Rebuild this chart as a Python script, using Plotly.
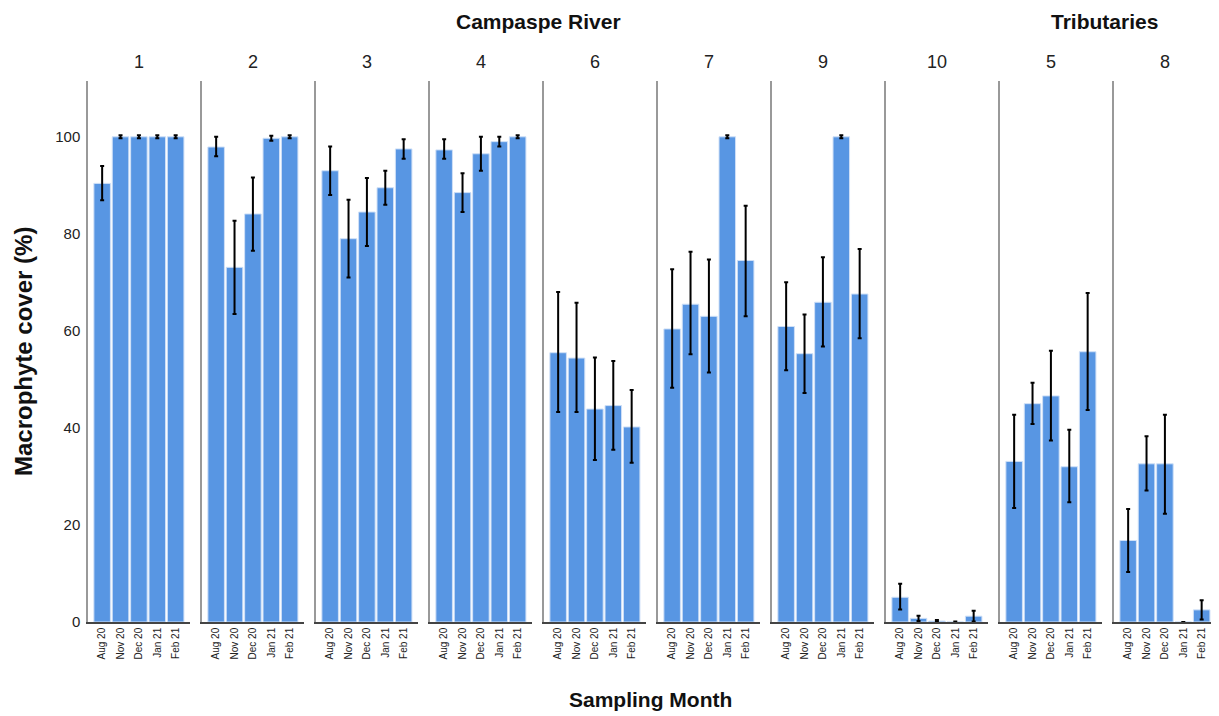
import plotly.graph_objects as go

# sites and months
sites = ["1", "2", "3", "4", "6", "7", "9", "10", "5", "8"]
months = ["Aug 20", "Nov 20", "Dec 20", "Jan 21", "Feb 21"]

# mean macrophyte cover (%) per site, per month
cover = {
    "1": [90.4, 100, 100, 100, 100],
    "2": [97.9, 73.1, 84.1, 99.7, 100],
    "3": [93.0, 79.0, 84.5, 89.5, 97.5],
    "4": [97.3, 88.5, 96.5, 99.0, 100],
    "6": [55.5, 54.4, 43.9, 44.6, 40.2],
    "7": [60.4, 65.5, 63.0, 100, 74.5],
    "9": [60.9, 55.3, 65.9, 100, 67.6],
    "10": [5.1, 0.75, 0.2, 0.0, 1.2],
    "5": [33.1, 45.0, 46.6, 32.0, 55.7],
    "8": [16.8, 32.6, 32.6, 0.0, 2.5],
}
# upper / lower error bar ends
err_hi = {
    "1": [94.0, 100.3, 100.3, 100.3, 100.3],
    "2": [100.0, 82.7, 91.6, 100.2, 100.3],
    "3": [98.0, 87.0, 91.5, 93.0, 99.5],
    "4": [99.5, 92.5, 100.0, 100.0, 100.3],
    "6": [68.0, 65.8, 54.5, 53.8, 47.8],
    "7": [72.7, 76.3, 74.7, 100.3, 85.8],
    "9": [70.0, 63.4, 75.2, 100.3, 76.9],
    "10": [7.9, 1.3, 0.4, 0.1, 2.3],
    "5": [42.7, 49.3, 55.9, 39.6, 67.8],
    "8": [23.3, 38.3, 42.7, 0.0, 4.5],
}
err_lo = {
    "1": [86.9, 99.7, 99.7, 99.7, 99.7],
    "2": [96.0, 63.5, 76.5, 99.2, 99.7],
    "3": [88.0, 71.0, 77.5, 86.0, 95.5],
    "4": [95.5, 84.5, 93.0, 98.0, 99.7],
    "6": [43.3, 43.3, 33.4, 35.5, 32.8],
    "7": [48.3, 55.2, 51.4, 99.7, 63.0],
    "9": [51.9, 47.2, 56.8, 99.7, 58.5],
    "10": [2.6, 0.2, 0.0, 0.0, 0.1],
    "5": [23.5, 40.8, 37.4, 24.7, 43.7],
    "8": [10.3, 27.1, 22.3, 0.0, 0.5],
}

bar_color = "#5896E3"
# page has an 8px body margin, so the figure is a bit smaller
FW, FH = 1211, 708
L, R = 80, 3
W = FW - L - R
step, pw = 114, 102

fig = go.Figure()
for i, s in enumerate(sites):
    xa = "x" if i == 0 else f"x{i+1}"
    ya = "y" if i == 0 else f"y{i+1}"
    vals = cover[s]
    fig.add_trace(go.Bar(
        x=list(range(len(months))), y=vals,
        marker=dict(color=bar_color, line=dict(color="#CFE0F7", width=1)),
        error_y=dict(type="data", symmetric=False,
                     array=[h - v for h, v in zip(err_hi[s], vals)],
                     arrayminus=[v - l for v, l in zip(vals, err_lo[s])],
                     color="black", thickness=2, width=2),
        xaxis=xa, yaxis=ya, showlegend=False, width=0.9,
    ))
    d0 = step * i / W
    d1 = (step * i + pw) / W
    key = "" if i == 0 else str(i + 1)
    fig.layout["xaxis" + key] = dict(
        domain=[d0, min(d1, 1)], range=[-0.77, 4.78],
        tickvals=list(range(len(months))), ticktext=months, tickangle=-90,
        tickfont=dict(size=10, color="#222"), showline=True, linecolor="#444",
        linewidth=1.5, ticks="", showgrid=False, zeroline=False, anchor=ya,
    )
    fig.layout["yaxis" + key] = dict(
        range=[0, 111.5], showgrid=False, zeroline=False, anchor=xa,
        showline=True, linecolor="#999", linewidth=1.5,
        tickvals=[0, 20, 40, 60, 80, 100], showticklabels=(i == 0),
        ticks="", tickfont=dict(size=15, color="#222"), ticklabelstandoff=3,
    )
    fig.add_annotation(text=s, x=(d0 + d1) / 2, y=1.0, xref="paper", yref="paper",
                       xanchor="center", yanchor="bottom", yshift=7, showarrow=False,
                       font=dict(size=18, color="#222"))

fig.add_annotation(text="<b>Campaspe River</b>", x=(0 + (step * 7 + pw) / W) / 2,
                   y=1.0, xref="paper", yref="paper", xanchor="center",
                   yanchor="bottom", yshift=46, showarrow=False,
                   font=dict(size=21, color="#111"))
fig.add_annotation(text="<b>Tributaries</b>", x=(step * 8 + (step * 9 + pw)) / 2 / W - 0.003,
                   y=1.0, xref="paper", yref="paper", xanchor="center",
                   yanchor="bottom", yshift=46, showarrow=False,
                   font=dict(size=21, color="#111"))
fig.add_annotation(text="<b>Sampling Month</b>", x=(650 - 8 - L) / W, y=0,
                   xref="paper", yref="paper", xanchor="center",
                   yanchor="top", yshift=-64, showarrow=False,
                   font=dict(size=21, color="#111"))
fig.add_annotation(text="<b>Macrophyte cover (%)</b>", x=0, y=0.5, xref="paper",
                   yref="paper", xanchor="right", xshift=-49, textangle=-90,
                   showarrow=False, font=dict(size=24, color="#111"))

fig.update_layout(
    width=FW, height=FH,
    margin=dict(l=L, r=R, t=73, b=94),
    plot_bgcolor="white", paper_bgcolor="white",
    font=dict(family="Liberation Sans, Arial, sans-serif"),
    bargap=0.1,
)

fig.write_html("out.html")
